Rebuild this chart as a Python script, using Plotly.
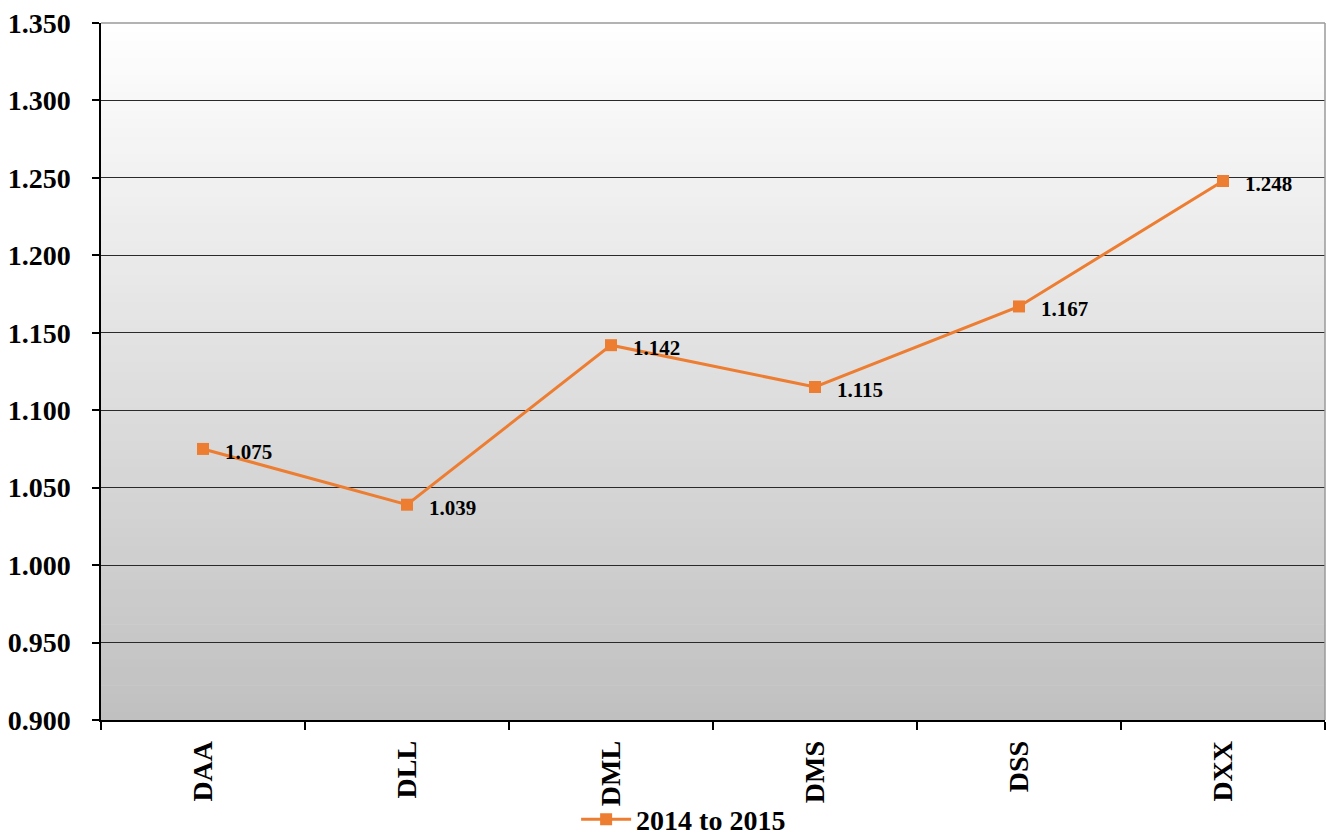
import plotly.graph_objects as go

categories = ["DAA", "DLL", "DML", "DMS", "DSS", "DXX"]
values = [1.075, 1.039, 1.142, 1.115, 1.167, 1.248]
series_name = "2014 to 2015"
y_ticks = [0.900, 0.950, 1.000, 1.050, 1.100, 1.150, 1.200, 1.250, 1.300, 1.350]

ORANGE = "#ED7D31"
FONT = "Liberation Serif"

fig = go.Figure()
fig.add_trace(go.Scatter(
    x=categories,
    y=values,
    name=f"<b>{series_name}</b>",
    mode="lines+markers",
    line=dict(color=ORANGE, width=3),
    marker=dict(symbol="square", size=12, color=ORANGE),
    cliponaxis=False,
))

# value labels to the right of each point
annotations = [
    dict(x=c, y=v, xref="x", yref="y", text=f"<b>{v:.3f}</b>",
         showarrow=False, xanchor="left", yanchor="middle",
         xshift=20, yshift=-3,
         font=dict(family=FONT, size=21, color="black"))
    for c, v in zip(categories, values)
]

# vertical white-to-grey gradient behind the plot area
n_bands = 80
top_rgb, bottom_rgb = (255, 255, 255), (192, 192, 192)
shapes = []
for i in range(n_bands):
    t = (i + 0.5) / n_bands
    c = [round(top_rgb[k] + (bottom_rgb[k] - top_rgb[k]) * t) for k in range(3)]
    shapes.append(dict(
        type="rect", xref="paper", yref="paper", layer="below",
        x0=0, x1=1, y1=1 - i / n_bands, y0=1 - (i + 1) / n_bands - 0.001,
        line=dict(width=0), fillcolor=f"rgb({c[0]},{c[1]},{c[2]})",
    ))
# light frame on top and right
shapes.append(dict(type="line", xref="paper", yref="paper", x0=0, x1=1, y0=1, y1=1,
                   line=dict(color="#9a9a9a", width=1.5)))
shapes.append(dict(type="line", xref="paper", yref="paper", x0=1, x1=1, y0=0, y1=1,
                   line=dict(color="#9a9a9a", width=1.5)))

fig.update_layout(
    width=1327, height=839,
    margin=dict(l=101, r=2, t=23, b=119, autoexpand=False),
    paper_bgcolor="white",
    plot_bgcolor="rgba(0,0,0,0)",
    shapes=shapes,
    annotations=annotations,
    showlegend=True,
    legend=dict(
        orientation="h", x=0.476, xanchor="center", y=-0.143, yanchor="middle",
        font=dict(family=FONT, size=28, color="black"),
        bgcolor="rgba(0,0,0,0)",
        borderwidth=0, itemwidth=50,
    ),
    font=dict(family=FONT, color="black"),
)
fig.update_xaxes(
    type="category",
    range=[-0.5, len(categories) - 0.5],
    automargin=False,
    tickson="boundaries",
    ticks="outside", ticklen=8, tickcolor="black", tickwidth=1.5,
    showline=True, linecolor="black", linewidth=1.5,
    showgrid=False,
    tickangle=-90,
    ticklabelstandoff=8,
    tickfont=dict(family=FONT, size=28, color="black"),
    tickprefix="<b>", ticksuffix="</b>",
)
fig.update_yaxes(
    range=[0.9, 1.35],
    automargin=False,
    tickvals=y_ticks,
    ticktext=[f"<b>{v:.3f}</b>" for v in y_ticks],
    ticks="outside", ticklen=7, tickcolor="black", tickwidth=1.5,
    showline=True, linecolor="black", linewidth=1.5,
    showgrid=True, gridcolor="#2a2a2a", gridwidth=1,
    zeroline=False,
    ticklabelstandoff=16,
    tickfont=dict(family=FONT, size=28, color="black"),
)

fig.write_html("out.html")
